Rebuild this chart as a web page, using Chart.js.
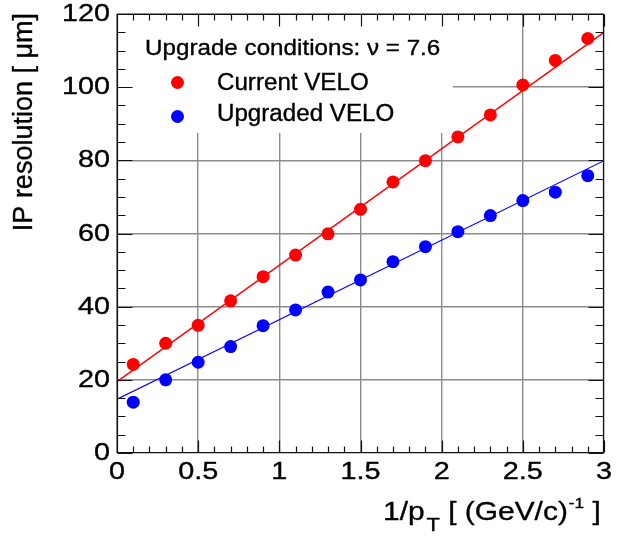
<!DOCTYPE html>
<html>
<head>
<meta charset="utf-8">
<script src="https://cdn.jsdelivr.net/npm/chart.js@4/dist/chart.umd.min.js"></script>
<style>
  html, body { margin: 0; padding: 0; background: #ffffff; }
  #wrap { width: 625px; height: 536px; }
</style>
</head>
<body>
<div id="wrap"><canvas id="c" width="625" height="536"></canvas></div>
<script>
// ---- data ----
const invPt = [0.1, 0.3, 0.5, 0.7, 0.9, 1.1, 1.3, 1.5, 1.7, 1.9, 2.1, 2.3, 2.5, 2.7, 2.9];
const currentVelo = [24.2, 30.0, 34.9, 41.6, 48.2, 54.1, 59.9, 66.6, 74.1, 79.9, 86.4, 92.4, 100.6, 107.3, 113.3];
const upgradedVelo = [13.9, 20.0, 24.8, 29.1, 34.8, 39.1, 44.0, 47.3, 52.3, 56.4, 60.5, 64.9, 69.0, 71.3, 75.8];
const fitX = [0, 3];
const currentFit = [19.5, 115.0];
const upgradedFit = [14.7, 79.9];
const xTickValues = [0, 0.5, 1, 1.5, 2, 2.5, 3];
const xTickLabels = ['0', '0.5', '1', '1.5', '2', '2.5', '3'];
const yTickValues = [0, 20, 40, 60, 80, 100, 120];
const yTickLabels = ['0', '20', '40', '60', '80', '100', '120'];
const seriesNames = ['Current VELO', 'Upgraded VELO'];
const legendHeader = 'Upgrade conditions: \u03bd = 7.6';

const RED = '#ff0000', BLUE = '#0000ff';
const FONT = '"Liberation Sans", Arial, sans-serif';

function pts(xs, ys) { return xs.map((x, i) => ({ x: x, y: ys[i] })); }

function txt(ctx, s, x, y, size, sx, align) {
  ctx.save();
  ctx.font = size + 'px ' + FONT;
  ctx.textBaseline = 'alphabetic';
  const w = ctx.measureText(s).width * sx;
  let x0 = x;
  if (align === 'center') x0 = x - w / 2;
  else if (align === 'right') x0 = x - w;
  ctx.translate(x0, y);
  ctx.scale(sx, 1);
  ctx.textAlign = 'left';
  ctx.fillText(s, 0, 0);
  ctx.lineWidth = 0.35;
  ctx.strokeStyle = ctx.fillStyle;
  ctx.strokeText(s, 0, 0);
  ctx.restore();
  return w;
}

const decor = {
  id: 'decor',
  beforeDatasetsDraw(chart) {
    const ctx = chart.ctx;
    ctx.save();
    ctx.fillStyle = '#ffffff';
    ctx.fillRect(118, 15, 453 - 118, 133 - 15);
    ctx.restore();
  },
  afterDraw(chart) {
    const ctx = chart.ctx;
    const xs = chart.scales.x, ys = chart.scales.y;
    const a = chart.chartArea;
    const L = Math.round(a.left) + 0.5, R = Math.round(a.right) - 0.5;
    const T = Math.round(a.top) + 0.5, B = Math.round(a.bottom) - 0.5;
    ctx.save();
    ctx.strokeStyle = '#111';
    ctx.lineWidth = 1.2;
    ctx.beginPath();
    ctx.rect(L, T, R - L, B - T);
    // x ticks (bottom and top), minor every 0.1
    for (let i = 0; i <= 30; i++) {
      const v = i / 10;
      const px = Math.round(xs.getPixelForValue(v)) + 0.5;
      const major = (i % 5 === 0);
      const len = major ? 12 : 6;
      ctx.moveTo(px, B); ctx.lineTo(px, B - len);
      ctx.moveTo(px, T); ctx.lineTo(px, T + len);
    }
    // y ticks (left and right), minor every 5
    for (let i = 0; i <= 24; i++) {
      const v = i * 5;
      const py = Math.round(ys.getPixelForValue(v)) + 0.5;
      const major = (i % 4 === 0);
      const len = major ? 15 : 8;
      ctx.moveTo(L, py); ctx.lineTo(L + len, py);
      ctx.moveTo(R, py); ctx.lineTo(R - len, py);
    }
    ctx.stroke();

    ctx.fillStyle = '#000';
    // tick labels
    xTickValues.forEach((v, i) => {
      txt(ctx, xTickLabels[i], xs.getPixelForValue(v), 479, 24, 1.2, 'center');
    });
    yTickValues.forEach((v, i) => {
      txt(ctx, yTickLabels[i], 110, ys.getPixelForValue(v) + 7, 24, 1.2, 'right');
    });

    // x title: 1/p_T [ (GeV/c)^-1 ]
    let x = 383;
    const base = 520, sz = 26, sxx = 1.15;
    x += txt(ctx, '1/p', x, base, sz, sxx, 'left');
    x += 2;
    x += txt(ctx, 'T', x, base + 11, 19, sxx, 'left');
    x += txt(ctx, ' [ (GeV/c)', x, base, sz, sxx, 'left');
    x += 1;
    x += txt(ctx, '-1', x, base - 12, 15, sxx, 'left');
    txt(ctx, ' ]', x, base, sz, sxx, 'left');

    // y title rotated
    ctx.save();
    ctx.translate(32, 13);
    ctx.rotate(-Math.PI / 2);
    ctx.font = '27px ' + FONT;
    ctx.textAlign = 'right';
    ctx.textBaseline = 'alphabetic';
    ctx.fillText('IP resolution [ \u03bcm]', 0, 0);
    ctx.lineWidth = 0.35;
    ctx.strokeStyle = '#000';
    ctx.strokeText('IP resolution [ \u03bcm]', 0, 0);
    ctx.restore();

    // legend
    txt(ctx, legendHeader, 145, 55, 22, 1.1, 'left');
    ctx.fillStyle = RED;
    ctx.beginPath(); ctx.arc(177.5, 82.5, 6.5, 0, Math.PI * 2); ctx.fill();
    ctx.fillStyle = BLUE;
    ctx.beginPath(); ctx.arc(177.5, 116.5, 6.5, 0, Math.PI * 2); ctx.fill();
    ctx.fillStyle = '#000';
    txt(ctx, seriesNames[0], 217, 90, 23, 1.05, 'left');
    txt(ctx, seriesNames[1], 217, 121, 23, 1.05, 'left');
    ctx.restore();
  }
};

new Chart(document.getElementById('c'), {
  type: 'scatter',
  data: {
    datasets: [
      { label: seriesNames[0], data: pts(invPt, currentVelo), backgroundColor: RED, borderColor: RED,
        pointRadius: 6.5, pointBorderWidth: 0, pointStyle: 'circle', showLine: false },
      { label: seriesNames[1], data: pts(invPt, upgradedVelo), backgroundColor: BLUE, borderColor: BLUE,
        pointRadius: 6.5, pointBorderWidth: 0, pointStyle: 'circle', showLine: false },
      { label: 'fit current', data: pts(fitX, currentFit), borderColor: RED, borderWidth: 1.6,
        pointRadius: 0, showLine: true, fill: false },
      { label: 'fit upgraded', data: pts(fitX, upgradedFit), borderColor: BLUE, borderWidth: 1.1,
        pointRadius: 0, showLine: true, fill: false }
    ]
  },
  options: {
    responsive: false,
    animation: false,
    devicePixelRatio: 1,
    layout: { padding: { top: 14, right: 21, left: 0, bottom: 0 } },
    plugins: { legend: { display: false }, tooltip: { enabled: false }, title: { display: false } },
    scales: {
      x: {
        type: 'linear', min: 0, max: 3,
        ticks: { display: false, stepSize: 0.5 },
        grid: { color: '#8c8c8c', lineWidth: 1.4, drawTicks: false },
        border: { display: false },
        afterFit(s) { s.height = 83; s.paddingLeft = 0; s.paddingRight = 0; }
      },
      y: {
        type: 'linear', min: 0, max: 120,
        ticks: { display: false, stepSize: 20 },
        grid: { color: '#8c8c8c', lineWidth: 1.4, drawTicks: false },
        border: { display: false },
        afterFit(s) { s.width = 117; s.paddingTop = 0; s.paddingBottom = 0; }
      }
    }
  },
  plugins: [decor]
});
</script>
</body>
</html>
